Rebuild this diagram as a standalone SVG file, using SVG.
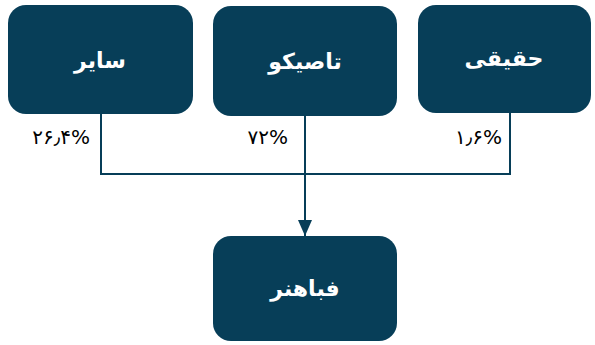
<svg xmlns="http://www.w3.org/2000/svg" width="595" height="345" viewBox="0 0 595 345">
<style>
.box{fill:#073e58;}
.lbl{font-family:"DejaVu Sans",sans-serif;font-weight:bold;font-size:22px;fill:#ffffff;text-anchor:middle;dominant-baseline:central;}
.pct{font-family:"DejaVu Sans",sans-serif;font-size:20px;fill:#000000;}
.ln{fill:none;stroke:#073e58;stroke-width:2;}
</style>
<defs>
<marker id="arr" markerWidth="8" markerHeight="7" refX="8" refY="3.5" orient="auto" markerUnits="strokeWidth">
<path d="M0,0 L8,3.5 L0,7 Z" fill="#073e58"/>
</marker>
</defs>
<rect width="595" height="345" fill="#ffffff"/>
<g id="connectors">
<path class="ln" d="M101,113 V174 H510 V112"/>
<path class="ln" d="M305,115 V236" marker-end="url(#arr)"/>
</g>
<g id="node-sayer">
<rect class="box" x="8" y="5" width="185" height="109" rx="18"/>
<text class="lbl" x="100" y="60" direction="rtl">سایر</text>
</g>
<g id="node-tasiko">
<rect class="box" x="213" y="6" width="184" height="110" rx="18"/>
<text class="lbl" x="305" y="61" direction="rtl">تاصیکو</text>
</g>
<g id="node-haghighi">
<rect class="box" x="418" y="5" width="173" height="108" rx="18"/>
<text class="lbl" x="504" y="58" direction="rtl">حقیقی</text>
</g>
<g id="node-fabahonar">
<rect class="box" x="213" y="236" width="184" height="105" rx="18"/>
<text class="lbl" x="305" y="288" direction="rtl">فباهنر</text>
</g>
<g id="labels">
<text class="pct" x="90" y="144" text-anchor="end">۲۶٫۴%</text>
<text class="pct" x="288" y="144" text-anchor="end">۷۲%</text>
<text class="pct" x="502" y="144" text-anchor="end">۱٫۶%</text>
</g>
</svg>
